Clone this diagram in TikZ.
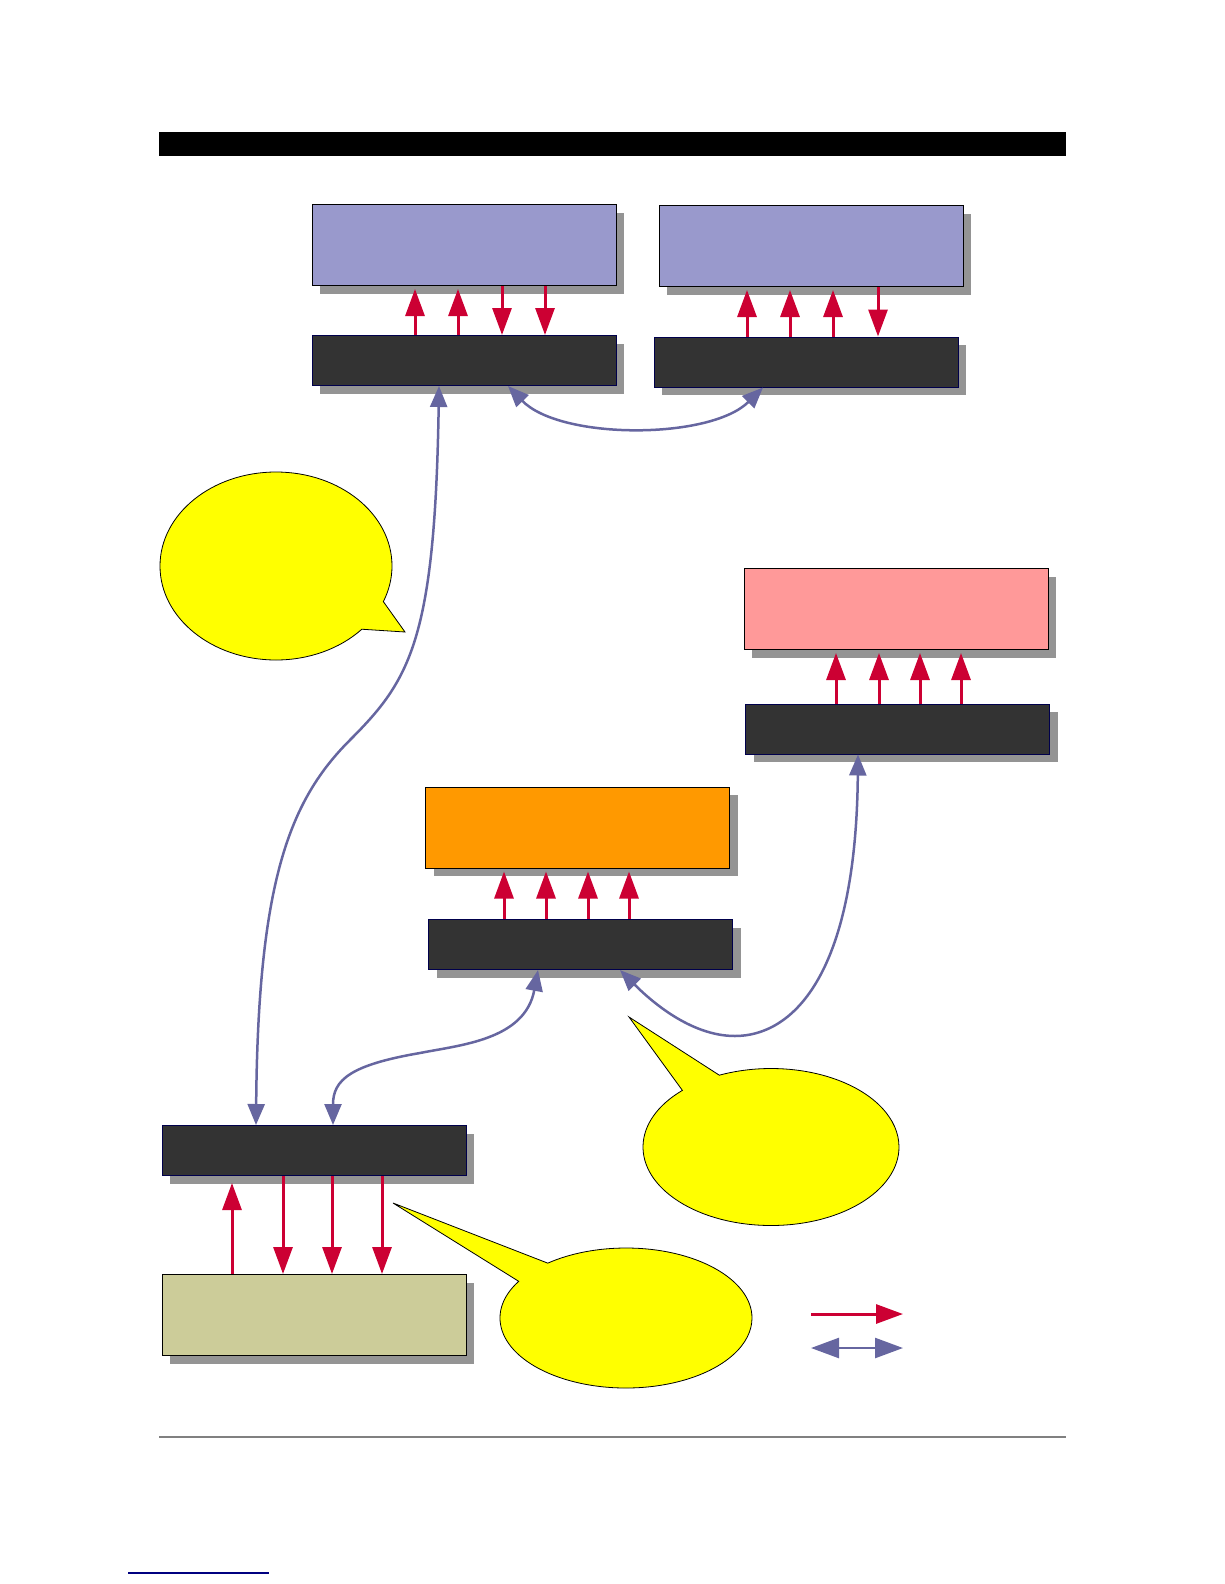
\documentclass[tikz,border=0pt]{standalone}
\definecolor{appblue}{RGB}{153, 153, 204}
\definecolor{libgray}{RGB}{51, 51, 51}
\definecolor{svcpink}{RGB}{255, 153, 153}
\definecolor{svcorange}{RGB}{255, 153, 0}
\definecolor{basekhaki}{RGB}{204, 204, 153}
\definecolor{sigred}{RGB}{204, 0, 51}
\definecolor{linkblue}{RGB}{102, 102, 160}
\definecolor{noteyellow}{RGB}{255, 255, 0}
\usepackage{tikz}
\usetikzlibrary{arrows.meta, shadows, shapes.callouts, calc}

\begin{document}
\begin{tikzpicture}[
  x=1pt, y=-1pt,
  pbox/.style={draw=black, line width=1pt, minimum width=304pt, minimum height=81pt, inner sep=0pt,
    drop shadow={shadow xshift=8pt, shadow yshift=-8pt, fill=black!42, opacity=1}},
  libbox/.style={pbox, draw=blue!30!black, fill=libgray, minimum height=50pt},
  sig/.style={draw=sigred, line width=3pt, -{Triangle[length=27pt, width=19pt]}},
  link/.style={draw=linkblue, line width=2.5pt, {Triangle[length=21pt, width=17pt]}-{Triangle[length=21pt, width=17pt]}},
  talk/.style={ellipse callout, draw=black, line width=0.8pt, fill=noteyellow, inner sep=0pt, callout pointer arc=20}
]
  \useasboundingbox (0,0) rectangle (1224,1584);
  \fill[black] (159,132) rectangle (1066,156);
  \draw[gray, line width=2pt] (159,1437) -- (1066,1437);
  \draw[blue!50!black, line width=2pt] (128,1573) -- (269,1573);

  \node[pbox, fill=appblue] (appA) at (464,245) {};
  \node[pbox, fill=appblue] (appB) at (811,246) {};
  \node[libbox] (libA) at (464,360.5) {};
  \node[libbox] (libB) at (806,362) {};
  \node[pbox, fill=svcpink] (svcC) at (896,609) {};
  \node[libbox] (libC) at (897.5,729) {};
  \node[pbox, fill=svcorange] (svcD) at (577.5,827.5) {};
  \node[libbox] (libD) at (580.5,944.5) {};
  \node[libbox] (libE) at (314,1150.5) {};
  \node[pbox, fill=basekhaki] (base) at (314,1315) {};

  \foreach \x in {415,458} \draw[sig, shorten >=3pt] (libA.north -| \x,0) -- (appA.south -| \x,0);
  \foreach \x in {502,545} \draw[sig] (appA.south -| \x,0) -- (libA.north -| \x,0);
  \foreach \x in {747,790,833} \draw[sig, shorten >=3pt] (libB.north -| \x,0) -- (appB.south -| \x,0);
  \draw[sig] (appB.south -| 878,0) -- (libB.north -| 878,0);
  \foreach \x in {836,879,920,961} \draw[sig, shorten >=3pt] (libC.north -| \x,0) -- (svcC.south -| \x,0);
  \foreach \x in {504,546,588,629} \draw[sig, shorten >=3pt] (libD.north -| \x,0) -- (svcD.south -| \x,0);
  \draw[sig, shorten >=7pt] (base.north -| 232,0) -- (libE.south -| 232,0);
  \foreach \x in {283,332,382} \draw[sig] (libE.south -| \x,0) -- (base.north -| \x,0);

  \draw[link] (libA.south -| 439,0) .. controls (435,640) and (410,680) .. (350,740)
    .. controls (290,800) and (258,880) .. (libE.north -| 256,0);
  \draw[link] (libA.south -| 508,0) .. controls (560,440) and (710,440) .. (libB.south -| 763,0);
  \draw[link] (libC.south -| 858,0) .. controls (856,980) and (790,1036) .. (735,1036)
    .. controls (690,1036) and (650,1000) .. (libD.south -| 620,0);
  \draw[link] (libD.south -| 538,0) .. controls (525,1040) and (460,1045) .. (420,1053)
    .. controls (350,1065) and (333,1080) .. (libE.north -| 333,0);

  \node[talk, minimum width=232pt, minimum height=188pt, callout absolute pointer={(405,632)}] (noteA) at (276,566) {};
  \node[talk, minimum width=256pt, minimum height=157pt, callout absolute pointer={(629,1017)}] (noteB) at (771,1147) {};
  \node[talk, minimum width=252pt, minimum height=140pt, callout absolute pointer={(393,1203)}] (noteC) at (626,1318) {};

  \coordinate (keyA) at (811,1314);
  \coordinate (keyB) at (903,1314);
  \coordinate (keyC) at (811,1348);
  \coordinate (keyD) at (903,1348);
  \draw[sig] (keyA) -- (keyB);
  \draw[link, {Triangle[length=28pt, width=20pt]}-{Triangle[length=28pt, width=20pt]}] (keyC) -- (keyD);
\end{tikzpicture}
\end{document}
